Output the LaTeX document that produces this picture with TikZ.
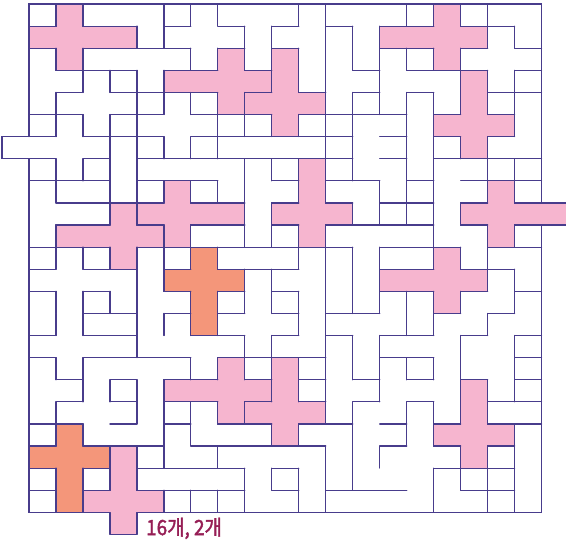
\documentclass[tikz,border=0pt]{standalone}
\usepackage{fontspec}
\newfontfamily\krfont[AutoFakeBold=2]{Noto Sans CJK KR}
\definecolor{wallc}{RGB}{72,60,140}
\definecolor{pinkc}{RGB}{246,181,207}
\definecolor{orangec}{RGB}{244,150,122}
\definecolor{textc}{RGB}{150,30,85}
\tikzset{
  wall/.style={draw=wallc, line width=1.2pt, line cap=round},
  pinkx/.style={fill=pinkc, draw=wallc, line width=1.2pt, line join=round},
  orangex/.style={fill=orangec, draw=wallc, line width=1.2pt, line join=round}
}
\newcommand\HW[2]{\foreach \cc in {#2} {\draw[wall] (\cc,#1) -- ++(1,0);}}
\newcommand\VW[2]{\foreach \cc in {#2} {\draw[wall] (\cc,#1) -- ++(0,1);}}
% style, cx, cy, left, right, up, down
\newcommand\crossp[7]{\filldraw[#1] (#2,#3-#6) -- (#2+1,#3-#6) -- (#2+1,#3) -- (#2+1+#5,#3) -- (#2+1+#5,#3+1) -- (#2+1,#3+1) -- (#2+1,#3+1+#7) -- (#2,#3+1+#7) -- (#2,#3+1) -- (#2-#4,#3+1) -- (#2-#4,#3) -- (#2,#3) -- cycle;}
\begin{document}
\begin{tikzpicture}[x=26.98pt, y=-22.1pt]
\path[use as bounding box, fill=white] (-1.07487,-0.181) rectangle (19.9036,24.3439);
% pink crosses
\crossp{pinkx}{1}{1}{1}{2}{1}{1}
\crossp{pinkx}{15}{1}{2}{1}{1}{1}
\crossp{pinkx}{7}{3}{2}{1}{1}{1}
\crossp{pinkx}{9}{4}{1}{1}{2}{1}
\crossp{pinkx}{16}{5}{1}{1}{2}{1}
\crossp{pinkx}{3}{10}{2}{1}{1}{1}
\crossp{pinkx}{5}{9}{1}{2}{1}{1}
\crossp{pinkx}{10}{9}{1}{1}{2}{1}
\crossp{pinkx}{17}{9}{1}{2}{1}{1}
\crossp{pinkx}{15}{12}{2}{1}{1}{1}
\crossp{pinkx}{7}{17}{2}{1}{1}{1}
\crossp{pinkx}{9}{18}{1}{1}{2}{1}
\crossp{pinkx}{16}{19}{1}{1}{2}{1}
\crossp{pinkx}{3}{22}{1}{1}{2}{1}
% orange crosses
\crossp{orangex}{6}{12}{1}{1}{1}{2}
\crossp{orangex}{1}{20}{1}{1}{1}{2}
% horizontal walls
\HW{1}{0,2,3,5,7,9,11,13,14,16,17}
\HW{2}{0,2,3,4,5,7,9,13,14,16,18}
\HW{3}{1,2,3,5,6,8,12,14,15,16,18}
\HW{4}{1,3,4,5,6,8,10,12,14,17,18}
\HW{5}{0,1,3,4,6,7,8,10,11,12,13,15,17}
\HW{6}{0,2,3,4,6,7,8,9,10,11,13,15,17}
\HW{7}{0,2,4,5,6,7,8,9,10,11,13,15,16,17,18}
\HW{8}{0,1,2,4,5,6,9,11,12,14,16,17,18}
\HW{9}{1,2,3,4,6,7,9,11,13,14,16,18}
\HW{10}{1,2,4,6,7,9,11,12,13,14,16,18}
\HW{11}{0,1,2,4,5,6,7,8,9,10,11,13,14,15,17,18}
\HW{12}{0,2,3,5,7,8,9,13,14,16,17}
\HW{13}{0,2,5,7,9,13,14,16,18}
\HW{14}{2,3,5,7,9,11,12,15,17}
\HW{15}{0,2,3,6,7,9,11,13,14,16,18}
\HW{16}{0,2,3,4,5,7,8,9,10,13,14,18}
\HW{17}{1,3,5,6,8,10,12,14,16,18}
\HW{18}{1,3,5,6,8,10,12,14,17,18}
\HW{19}{0,1,3,5,7,8,10,11,13,15,17,18}
\HW{20}{0,2,3,4,6,7,8,9,10,13,15,17}
\HW{21}{0,2,4,5,6,7,9,15,16,17}
\HW{22}{0,2,4,5,6,7,9,11,12,13,16,17}
% vertical walls
\VW{0}{1,2,5,6,7,10,11,14,15,16,17}
\VW{1}{4,5,8,9,11,12,13,17,18}
\VW{2}{1,2,6,7,8,9,10,11,12,13,14,15,16}
\VW{3}{2,3,4,5,9,10,11,13,16,17,18}
\VW{4}{1,4,5,6,7,8,11,12,13,14,15,16,17,18}
\VW{5}{1,2,3,4,7,8,9,10,11,12,14,15,18}
\VW{6}{3,4,5,6,7,11,12,14,15,16,17}
\VW{7}{1,2,3,4,8,9,10,11,12,14,15,17,18}
\VW{8}{1,3,4,5,6,7,8,10,11,13,14,15,17,18}
\VW{9}{3,4,8,9,12,13,14,15,16}
\VW{10}{1,5,6,8,9,10,11,15,17,18}
\VW{11}{1,2,3,4,5,6,7,10,11,12,13,15,16,17}
\VW{12}{4,5,8,9,11,12,13,17,18}
\VW{13}{1,2,3,4,6,7,8,9,10,11,12,13,14,15,16,18}
\VW{14}{1,2,4,5,6,7,10,11,14,15,17}
\VW{15}{4,8,9,11,12,13,16,18}
\VW{16}{1,2,6,7,8,9,10,11,12,13,14,15,16,18}
\VW{17}{2,3,4,5,9,10,11,13,16,17,18}
\VW{18}{1,4,5,6,7,8,11,12,14,15,16,17}
\VW{19}{1,2,5,6,9,10,12,14,15,18}
\VW{20}{3,4,5,7,11,12,13,16,17,18}
\VW{21}{1,2,3,4,8,9,10,11,12,15,16,17,18}
\VW{22}{1,2,5,6,7,8,10,11,15,17,18}
% border
\draw[wall] (0,6) -- (0,0) -- (19,0) -- (19,9);
\draw[wall] (19,10) -- (19,23) -- (4,23);
\draw[wall] (3,23) -- (0,23) -- (0,7);
\draw[wall] (0,6) -- (-1,6) -- (-1,7) -- (0,7);
% answer text
\node[anchor=base west, text=textc, font=\krfont\bfseries\fontsize{21}{21}\selectfont, inner sep=0pt] (ans) at (4.337,24.03) {\scalebox{0.9}[1]{16개, 2개}};
\end{tikzpicture}
\end{document}
